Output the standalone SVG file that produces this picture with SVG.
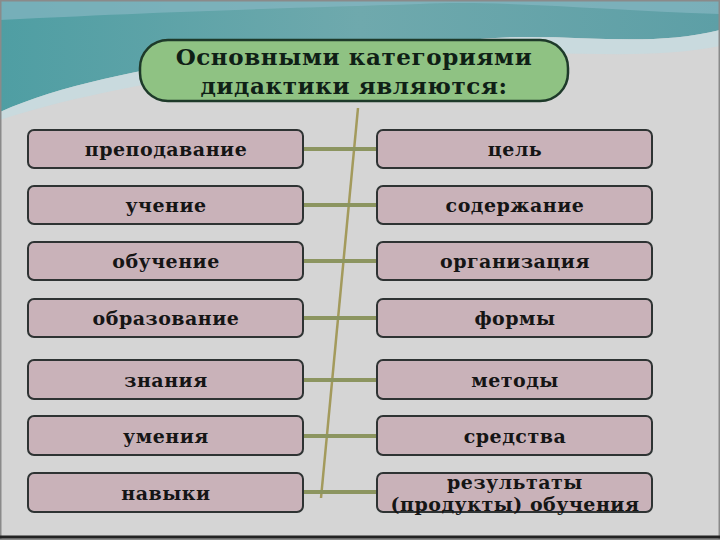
<svg xmlns="http://www.w3.org/2000/svg" width="720" height="540" viewBox="0 0 720 540">
<defs>
<linearGradient id="sky" x1="0" y1="0" x2="1" y2="0">
<stop offset="0" stop-color="#4f9ea3"/>
<stop offset="0.5" stop-color="#6fa9ad"/>
<stop offset="1" stop-color="#5d9fa6"/>
</linearGradient>
<style>
.box{fill:#c9b2b9;stroke:#2e3333;stroke-width:2}
.lbl{font-family:"DejaVu Serif","Liberation Serif",serif;font-weight:bold;font-size:19px;letter-spacing:0.5px;fill:#151515;text-anchor:middle}
.ttl{font-family:"DejaVu Serif","Liberation Serif",serif;font-weight:bold;font-size:23px;letter-spacing:0.6px;fill:#0f2016;text-anchor:middle}
.con{stroke:#8c9560;stroke-width:4;fill:none}
</style>
</defs>
<rect x="0" y="0" width="720" height="540" fill="#d5d5d5"/>
<path d="M0,0 H720 V30 C640,50 560,30 470,40 C380,50 300,40 230,55 C140,70 60,85 0,112 Z" fill="url(#sky)"/>
<path d="M0,0 H720 V14 C600,10 500,0 420,4 C300,8 200,10 0,20 Z" fill="#86b7c2" opacity="0.7"/>
<path d="M0,112 C60,85 140,70 230,55 C300,40 380,50 470,40 C560,30 640,50 720,30 V46 C640,62 560,48 470,56 C380,64 300,58 230,70 C140,84 60,100 0,120 Z" fill="#c6dbe0" opacity="0.8"/>
<rect x="0" y="0" width="720" height="540" fill="none" stroke="#8a8a8a" stroke-width="3"/>
<line x1="0" y1="537" x2="720" y2="537" stroke="#222" stroke-width="3"/>
<g id="connectors">
<line x1="358" y1="108" x2="321" y2="498" stroke="#a39a5c" stroke-width="2.5"/>
<line class="con" x1="303" y1="149" x2="377" y2="149"/>
<line class="con" x1="303" y1="205" x2="377" y2="205"/>
<line class="con" x1="303" y1="261" x2="377" y2="261"/>
<line class="con" x1="303" y1="318" x2="377" y2="318"/>
<line class="con" x1="303" y1="380" x2="377" y2="380"/>
<line class="con" x1="303" y1="436" x2="377" y2="436"/>
<line class="con" x1="303" y1="492" x2="377" y2="492"/>
</g>
<g id="title">
<rect x="140" y="40" width="428" height="61" rx="28" fill="#8fc283" stroke="#1e3a2a" stroke-width="2.5"/>
<text class="ttl" x="354" y="65">Основными категориями</text>
<text class="ttl" x="354" y="94">дидактики являются:</text>
</g>
<g id="n-prepodavanie"><rect class="box" x="28" y="130" width="275" height="38" rx="6"/><text class="lbl" x="166" y="156">преподавание</text></g>
<g id="n-uchenie"><rect class="box" x="28" y="186" width="275" height="38" rx="6"/><text class="lbl" x="166" y="212">учение</text></g>
<g id="n-obuchenie"><rect class="box" x="28" y="242" width="275" height="38" rx="6"/><text class="lbl" x="166" y="268">обучение</text></g>
<g id="n-obrazovanie"><rect class="box" x="28" y="299" width="275" height="38" rx="6"/><text class="lbl" x="166" y="325">образование</text></g>
<g id="n-znaniya"><rect class="box" x="28" y="360" width="275" height="39" rx="6"/><text class="lbl" x="166" y="387">знания</text></g>
<g id="n-umeniya"><rect class="box" x="28" y="416" width="275" height="39" rx="6"/><text class="lbl" x="166" y="443">умения</text></g>
<g id="n-navyki"><rect class="box" x="28" y="473" width="275" height="39" rx="6"/><text class="lbl" x="166" y="500">навыки</text></g>
<g id="n-tsel"><rect class="box" x="377" y="130" width="275" height="38" rx="6"/><text class="lbl" x="515" y="156">цель</text></g>
<g id="n-soderzhanie"><rect class="box" x="377" y="186" width="275" height="38" rx="6"/><text class="lbl" x="515" y="212">содержание</text></g>
<g id="n-organizatsiya"><rect class="box" x="377" y="242" width="275" height="38" rx="6"/><text class="lbl" x="515" y="268">организация</text></g>
<g id="n-formy"><rect class="box" x="377" y="299" width="275" height="38" rx="6"/><text class="lbl" x="515" y="325">формы</text></g>
<g id="n-metody"><rect class="box" x="377" y="360" width="275" height="39" rx="6"/><text class="lbl" x="515" y="387">методы</text></g>
<g id="n-sredstva"><rect class="box" x="377" y="416" width="275" height="39" rx="6"/><text class="lbl" x="515" y="443">средства</text></g>
<g id="n-rezultaty"><rect class="box" x="377" y="473" width="275" height="39" rx="6"/><text class="lbl" x="515" y="489">результаты</text><text class="lbl" x="515" y="511">(продукты) обучения</text></g>
</svg>
